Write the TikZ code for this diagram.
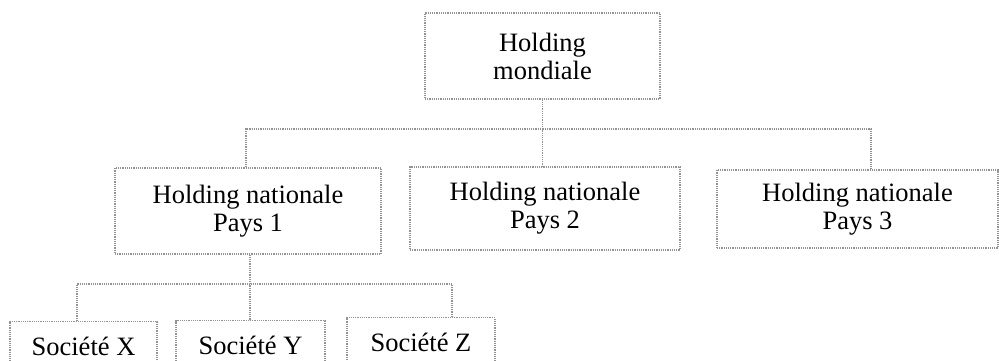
\documentclass[tikz,border=0pt]{standalone}
\usepackage{fontspec}
\setmainfont{Liberation Serif}
\usepackage{tikz}

\tikzset{
  boite/.style = {draw=gray!85, densely dotted, line width=1.2pt, align=center, inner sep=0pt,
                  font=\fontsize{26.5}{28}\selectfont},
  lien/.style = {draw=gray!85, densely dotted, line width=1.2pt}
}

\begin{document}
\begin{tikzpicture}[x=1pt, y=-1pt]
                    \useasboundingbox (0,0) rectangle (999,360);

                    \node[boite, minimum width=235pt, minimum height=86pt] (mondiale) at (542.5,56) {Holding\\mondiale};

                    \node[boite, minimum width=266pt, minimum height=86pt] (pays1) at (248,211) {Holding nationale\\Pays 1};
                    \node[boite, minimum width=270pt, minimum height=83pt] (pays2) at (545,208.5) {Holding nationale\\Pays 2};
                    \node[boite, minimum width=281pt, minimum height=78pt] (pays3) at (857.5,209) {Holding nationale\\Pays 3};

                    \node[boite, anchor=north, minimum width=147pt, minimum height=50pt] (socX) at (83.5,321) {Société X};
                    \node[boite, anchor=north, minimum width=149pt, minimum height=50pt] (socY) at (250.5,320) {Société Y};
                    \node[boite, anchor=north, minimum width=148pt, minimum height=50pt] (socZ) at (421,317) {Société Z};

                    % niveau 1
                    \coordinate (bus1) at (mondiale.south |- 0,129);
                    \draw[lien] (mondiale.south) -- (mondiale.south |- pays2.north);
                    \draw[lien] ([xshift=-2pt]pays1.north) |- (bus1);
                    \draw[lien] ([xshift=13.5pt]pays3.north) |- (bus1);

                    % niveau 2
                    \coordinate (bus2) at ([xshift=2pt]pays1.south |- 0,284);
                    \draw[lien] ([xshift=2pt]pays1.south) -- ([xshift=2pt]pays1.south |- socY.north);
                    \draw[lien] ([xshift=-6.5pt]socX.north) |- (bus2);
                    \draw[lien] ([xshift=31pt]socZ.north) |- (bus2);
\end{tikzpicture}
\end{document}
